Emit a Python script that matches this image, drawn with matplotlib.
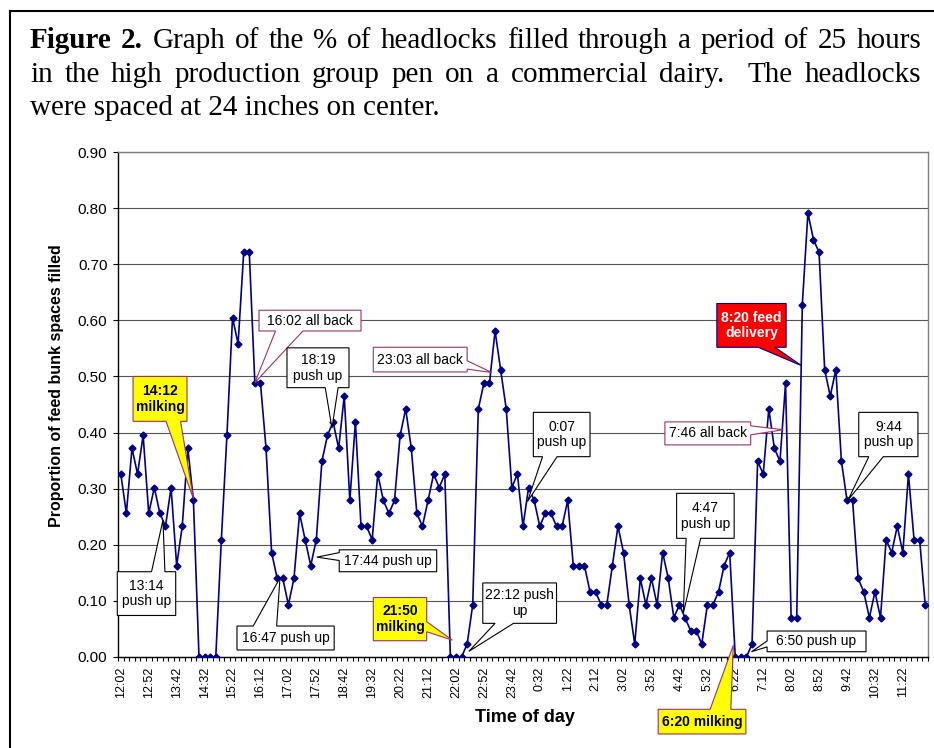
import numpy as np
import matplotlib.pyplot as plt
from matplotlib.patches import Polygon
from matplotlib.lines import Line2D

plt.rcParams['font.family'] = ['Liberation Sans', 'DejaVu Sans']

# proportion of headlocks filled, one reading every 10 minutes from 12:02
filled = [0.326, 0.256, 0.372, 0.326, 0.395, 0.256, 0.302, 0.256, 0.233, 0.302,
          0.163, 0.233, 0.372, 0.279, 0.0, 0.0, 0.0, 0.0, 0.209, 0.395,
          0.605, 0.558, 0.721, 0.721, 0.488, 0.488, 0.372, 0.186, 0.140, 0.140,
          0.093, 0.140, 0.256, 0.209, 0.163, 0.209, 0.349, 0.395, 0.419, 0.372,
          0.465, 0.279, 0.419, 0.233, 0.233, 0.209, 0.326, 0.279, 0.256, 0.279,
          0.395, 0.442, 0.372, 0.256, 0.233, 0.279, 0.326, 0.302, 0.326, 0.0,
          0.0, 0.0, 0.023, 0.093, 0.442, 0.488, 0.488, 0.581, 0.512, 0.442,
          0.302, 0.326, 0.233, 0.302, 0.279, 0.233, 0.256, 0.256, 0.233, 0.233,
          0.279, 0.163, 0.163, 0.163, 0.116, 0.116, 0.093, 0.093, 0.163, 0.233,
          0.186, 0.093, 0.023, 0.140, 0.093, 0.140, 0.093, 0.186, 0.140, 0.070,
          0.093, 0.070, 0.047, 0.047, 0.023, 0.093, 0.093, 0.116, 0.163, 0.186,
          0.0, 0.0, 0.0, 0.023, 0.349, 0.326, 0.442, 0.372, 0.349, 0.488,
          0.070, 0.070, 0.628, 0.791, 0.744, 0.721, 0.512, 0.465, 0.512, 0.349,
          0.279, 0.279, 0.140, 0.116, 0.070, 0.116, 0.070, 0.209, 0.186, 0.233,
          0.186, 0.326, 0.209, 0.209, 0.093]

time_labels = ['12:02', '12:52', '13:42', '14:32', '15:22', '16:12', '17:02', '17:52',
               '18:42', '19:32', '20:22', '21:12', '22:02', '22:52', '23:42', '0:32',
               '1:22', '2:12', '3:02', '3:52', '4:42', '5:32', '6:22', '7:12',
               '8:02', '8:52', '9:42', '10:32', '11:22']
label_every = 5

fig = plt.figure(figsize=(9.34, 7.48), dpi=100)
W, H = 934, 748
ax = fig.add_axes([118 / W, 1 - 657 / H, 810 / W, 505 / H])

x = np.arange(len(filled))
ax.plot(x, filled, color='#000080', lw=1.2, marker='D', ms=3.5, zorder=3)

ax.set_xlim(-0.5, len(filled) - 0.5)
ax.set_ylim(0, 0.9)
yt = np.arange(0, 0.91, 0.1)
ax.set_yticks(yt, labels=[f'{v:.2f}' for v in yt])
ax.yaxis.grid(True, color='#555555', lw=0.8)
ax.set_axisbelow(True)
ax.tick_params(axis='y', length=3.6, width=0.8, pad=4, labelsize=11)

ax.set_xticks(np.arange(-0.5, len(filled), 1))
ax.tick_params(axis='x', which='major', length=3, width=0.8, labelbottom=False)
ax.set_xticks(np.arange(0, len(time_labels) * label_every, label_every),
              labels=time_labels, minor=True)
ax.tick_params(axis='x', which='minor', length=0, pad=7, labelsize=9, labelrotation=90)

for s in ['left', 'bottom']:
    ax.spines[s].set_color('black')
    ax.spines[s].set_linewidth(1)
for s in ['top', 'right']:
    ax.spines[s].set_color('#808080')
    ax.spines[s].set_linewidth(1)

fig.text(57 / W, 1 - 386 / H, 'Proportion of feed bunk spaces filled', rotation=90,
         ha='center', va='center', fontsize=11.5, fontweight='bold')
fig.text(525 / W, 1 - 718 / H, 'Time of day', ha='center', va='center',
         fontsize=13, fontweight='bold')


def callout(text, box, side, base, tip, face='white', edge='black',
            color='black', bold=False, size=10):
    x0, x1, y0, y1 = box
    b1, b2 = base
    if side == 'bottom':
        pts = [(x0, y1), (x0, y0), (b1, y0), tip, (b2, y0), (x1, y0), (x1, y1)]
    elif side == 'top':
        pts = [(x0, y0), (x1, y0), (x1, y1), (b2, y1), tip, (b1, y1), (x0, y1)]
    elif side == 'left':
        pts = [(x0, y1), (x0, b2), tip, (x0, b1), (x0, y0), (x1, y0), (x1, y1)]
    else:
        pts = [(x0, y0), (x1, y0), (x1, b1), tip, (x1, b2), (x1, y1), (x0, y1)]
    ax.add_patch(Polygon(pts, closed=True, facecolor=face, edgecolor=edge,
                         lw=0.8, zorder=5, clip_on=False))
    ax.text((x0 + x1) / 2, (y0 + y1) / 2, text, ha='center', va='center',
            color=color, fontsize=size, fontweight='bold' if bold else 'normal',
            linespacing=1.15, zorder=6, clip_on=False)


pink = '#993366'
yellow = '#FFFF00'
callout('14:12\nmilking', (2.2, 11.85, 0.420, 0.500), 'bottom', (8.1, 10.7), (13.0, 0.282),
        face=yellow, edge=pink, bold=True)
callout('13:14\npush up', (-0.63, 9.83, 0.074, 0.152), 'top', (5.5, 7.9), (7.55, 0.244))
callout('16:02 all back', (24.74, 43.0, 0.581, 0.618), 'bottom', (27.7, 32.6), (24.0, 0.489),
        edge=pink)
callout('18:19\npush up', (29.75, 40.85, 0.480, 0.551), 'bottom', (36.6, 38.9), (37.8, 0.408))
callout('17:44 push up', (39.1, 56.55, 0.152, 0.191), 'left', (0.172, 0.186), (35.1, 0.178))
callout('16:47 push up', (20.8, 38.2, 0.0125, 0.0552), 'top', (23.7, 27.9), (28.5, 0.141))
callout('21:50\nmilking', (45.2, 54.76, 0.029, 0.106), 'right', (0.045, 0.063), (59.35, 0.030),
        face=yellow, edge=pink, bold=True)
callout('22:12 push\nup', (64.8, 78.0, 0.060, 0.132), 'bottom', (67.0, 70.3), (62.3, 0.010))
callout('23:03 all back', (45.2, 62.0, 0.508, 0.552), 'right', (0.513, 0.528), (66.4, 0.507),
        edge=pink)
callout('0:07\npush up', (73.85, 84.0, 0.357, 0.436), 'bottom', (75.5, 78.1), (72.8, 0.277))
callout('4:47\npush up', (99.5, 109.8, 0.2115, 0.2917), 'bottom', (101.2, 103.8), (100.7, 0.078))
callout('7:46 all back', (97.4, 112.76, 0.378, 0.419), 'right', (0.396, 0.412), (118.6, 0.405),
        edge=pink)
callout('8:20 feed\ndelivery', (106.7, 119.1, 0.552, 0.630), 'bottom', (114.1, 117.1),
        (121.9, 0.519), face='#FF0000', edge='#000080', color='white', bold=True)
callout('6:50 push up', (115.7, 133.4, 0.0094, 0.0463), 'left', (0.018, 0.0285), (112.9, 0.0094))
callout('9:44\npush up', (132.1, 142.7, 0.357, 0.436), 'bottom', (133.9, 136.5), (130.2, 0.280))
callout('6:20 milking', (96.2, 111.9, -0.1372, -0.0932), 'top', (105.5, 109.2), (109.65, 0.021),
        face=yellow, edge=pink, bold=True)

# caption, justified like the source document
renderer = fig.canvas.get_renderer()


def justified(tokens, x0, x1, y, size):
    arts = []
    total = 0
    for word, weight in tokens:
        if word:
            t = fig.text(0, y, word, fontsize=size, fontweight=weight,
                         family='Liberation Serif', va='baseline', ha='left')
            w = t.get_window_extent(renderer=renderer).width
        else:
            t, w = None, 0
        arts.append((t, w))
        total += w
    gap = ((x1 - x0) - total) / (len(tokens) - 1)
    pos = x0
    for t, w in arts:
        if t is not None:
            t.set_x(pos / W)
        pos += w + gap


line1 = [('Figure', 'bold'), ('2.', 'bold')] + \
    [(w, 'normal') for w in 'Graph of the % of headlocks filled through a period of 25 hours'.split(' ')]
line2 = [(w, 'normal') for w in 'in the high production group pen on a commercial dairy.  The headlocks'.split(' ')]
cap_size = 21
justified(line1, 30, 921, 1 - 48 / H, cap_size)
justified(line2, 30, 921, 1 - 82 / H, cap_size)
fig.text(30 / W, 1 - 115 / H, 'were spaced at 24 inches on center.', fontsize=cap_size,
         family='Liberation Serif', va='baseline', ha='left')

# page border around the figure
fig.add_artist(Line2D([10 / W, 10 / W], [0, 1 - 11 / H], color='black', lw=1.5))
fig.add_artist(Line2D([10 / W, 1], [1 - 11 / H, 1 - 11 / H], color='black', lw=1.5))

fig.savefig('out.png', dpi=100)
